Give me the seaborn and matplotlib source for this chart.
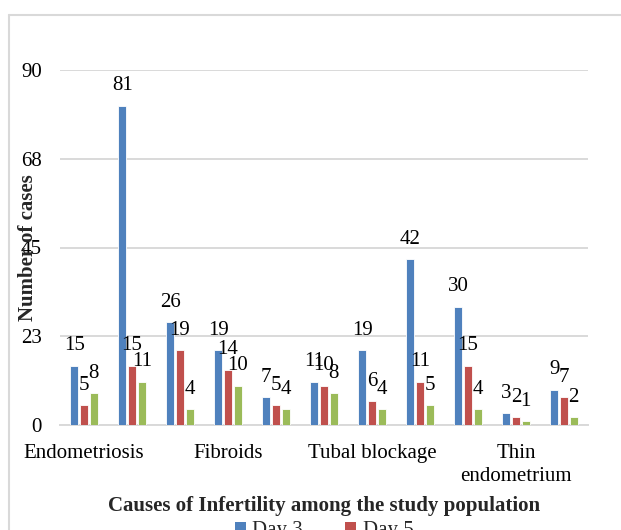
import matplotlib
matplotlib.use("Agg")
import matplotlib.pyplot as plt
import seaborn as sns
import pandas as pd
from matplotlib.lines import Line2D
from matplotlib.patches import Patch

# Category axis: one group per row, a name shown on every third group
group_ids = list(range(11))
label_positions = [0, 3, 6, 9]
label_texts = ["Endometriosis", "Fibroids", "Tubal blockage", "Thin\nendometrium"]

# Number of cases per group
day3 = [15, 81, 26, 19, 7, 11, 19, 42, 30, 3, 9]
day5 = [5, 15, 19, 14, 5, 10, 6, 11, 15, 2, 7]
series3 = [8, 11, 4, 10, 4, 8, 4, 5, 4, 1, 2]

series_names = ["Day 3", "Day 5", "Series3"]
series_colors = ["#4F81BD", "#C0504D", "#9BBB59"]

y_ticks = [0, 22.5, 45, 67.5, 90]
y_tick_labels = ["0", "23", "45", "68", "90"]

sns.set_theme(style="white")
plt.rcParams["font.family"] = ["Liberation Serif", "DejaVu Serif"]

rows = []
for name, values in zip(series_names, [day3, day5, series3]):
    for g, v in zip(group_ids, values):
        rows.append({"group": g, "cases": v, "series": name})
df = pd.DataFrame(rows)

W, H = 621, 530
fig = plt.figure(figsize=(W / 100, H / 100), dpi=100)
ax = fig.add_axes([60 / W, 1 - 425 / H, 528 / W, 355 / H])

sns.barplot(
    data=df, x="group", y="cases", hue="series",
    order=group_ids, hue_order=series_names, palette=series_colors,
    saturation=1, width=0.61, gap=0.15, edgecolor="white", linewidth=0.6,
    legend=False, ax=ax, zorder=3,
)

for cont in ax.containers:
    ax.bar_label(cont, fmt="%d", padding=7.5, fontsize=15, color="#000000")

ax.set_xlim(-0.5, 10.5)
ax.set_ylim(0, 90)
ax.set_yticks(y_ticks, y_tick_labels)
ax.set_xticks(label_positions, label_texts)
for lbl in ax.get_xticklabels():
    lbl.set_linespacing(1.3)
ax.yaxis.grid(True, color="#D9D9D9", linewidth=1.4)
ax.xaxis.grid(False)
ax.set_axisbelow(True)
for side in ["left", "right", "top"]:
    ax.spines[side].set_visible(False)
ax.spines["bottom"].set_color("#D9D9D9")
ax.spines["bottom"].set_linewidth(1.4)
ax.tick_params(axis="both", length=0, labelsize=15, colors="#000000")
ax.tick_params(axis="y", pad=13)
ax.tick_params(axis="x", pad=13.5)

ax.set_xlabel("")
ax.set_ylabel("Number of cases", fontsize=15, fontweight="bold", va="center")
ax.yaxis.set_label_coords(-0.061, 0.5)

fig.text(324 / W, 1 - 506 / H, "Causes of Infertility among the study population",
         ha="center", va="center", fontsize=15, fontweight="bold")

handles = [Patch(facecolor=c, edgecolor="none") for c in series_colors[:2]]
fig.legend(handles, series_names[:2], loc="upper center",
           bbox_to_anchor=(324 / W, 1 - 511 / H), ncol=2, frameon=False,
           fontsize=15, handlelength=0.55, handleheight=0.55,
           handletextpad=0.3, columnspacing=2.0, borderpad=0)

# chart frame (left and top edges)
fig.add_artist(Line2D([9 / W, 9 / W], [0, 1 - 15 / H], transform=fig.transFigure,
                      color="#D9D9D9", linewidth=1.5))
fig.add_artist(Line2D([9 / W, 1], [1 - 15 / H, 1 - 15 / H], transform=fig.transFigure,
                      color="#D9D9D9", linewidth=1.5))

fig.savefig("out.png", dpi=100)
